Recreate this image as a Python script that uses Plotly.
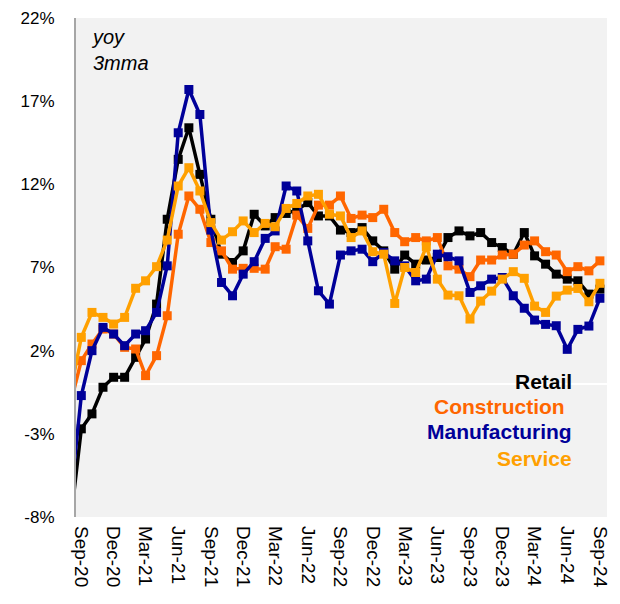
import pandas as pd
import plotly.graph_objects as go

# Months Aug-20 .. Sep-24 (Aug-20 sits just outside the visible range)
months = pd.date_range("2020-08-01", "2024-09-01", freq="MS")

retail = [-8.4, -2.7, -1.8, -0.2, 0.4, 0.4, 1.6, 2.7, 4.8, 9.9, 13.5, 15.4, 12.6,
          9.9, 7.8, 7.3, 8.0, 10.2, 9.5, 10.0, 10.25, 10.45, 10.9, 10.1, 10.1,
          9.25, 9.1, 9.4, 8.6, 8.0, 6.9, 7.75, 7.2, 7.45, 7.6, 8.8, 9.2,
          8.9, 9.1, 8.5, 8.2, 7.8, 9.1, 7.7, 7.2, 6.6, 6.3, 6.2, 5.4, 5.7]
construction = [-1.2, 1.4, 2.4, 3.3, 3.0, 2.2, 2.1, 0.5, 1.7, 4.1, 9.0, 11.3, 10.5,
                8.5, 8.0, 6.9, 6.95, 6.95, 6.9, 8.25, 8.1, 10.15, 9.35, 10.75, 10.75,
                11.3, 9.95, 10.15, 10.0, 10.5, 9.1, 8.55, 8.8, 8.6, 8.8, 7.1, 6.9,
                6.45, 7.45, 7.45, 7.75, 7.8, 8.35, 8.6, 7.95, 7.75, 6.75, 7.05, 6.8, 7.4]
manufacturing = [-7.0, -0.7, 2.0, 3.4, 3.0, 2.3, 3.0, 3.2, 4.3, 7.1, 15.1, 17.7, 16.2,
                 9.25, 6.1, 5.3, 6.6, 7.35, 8.75, 9.2, 11.9, 11.6, 8.6, 5.6, 4.8,
                 7.75, 8.0, 8.1, 7.35, 7.9, 7.4, 7.1, 6.2, 6.3, 7.8, 7.65, 7.4,
                 5.5, 5.9, 6.3, 6.4, 5.3, 4.55, 3.84, 3.58, 3.5, 2.08, 3.28, 3.48, 5.15]
service = [-0.5, 2.8, 4.3, 4.0, 3.6, 4.0, 5.75, 6.2, 7.05, 8.65, 11.9, 13.0, 11.6,
           9.7, 8.65, 9.15, 9.8, 9.1, 9.65, 9.45, 10.55, 10.85, 11.3, 11.4, 10.2,
           10.1, 8.8, 9.2, 7.95, 7.8, 4.84, 7.0, 6.7, 8.25, 6.3, 5.34, 5.3,
           3.9, 4.98, 5.58, 6.3, 6.75, 6.35, 4.68, 4.3, 5.28, 5.64, 5.74, 4.94, 6.05]

series_names = ["Retail", "Construction", "Manufacturing", "Service"]
series_colors = ["#000000", "#FF6600", "#000099", "#FFA000"]
series_values = [retail, construction, manufacturing, service]

tick_dates = pd.date_range("2020-09-01", "2024-09-01", freq="3MS")
tick_labels = ["Sep-20", "Dec-20", "Mar-21", "Jun-21", "Sep-21", "Dec-21", "Mar-22",
               "Jun-22", "Sep-22", "Dec-22", "Mar-23", "Jun-23", "Sep-23", "Dec-23",
               "Mar-24", "Jun-24", "Sep-24"]
y_ticks = [-8, -3, 2, 7, 12, 17, 22]

# page body has an 8px margin; target plot box on screen: x 76..607, y 18..517
OFF = 8
W, H = 620 - OFF, 604 - OFF
PL, PR, PT, PB = 76, 607, 18, 517

fig = go.Figure()
for name, color, vals in zip(series_names, series_colors, series_values):
    fig.add_trace(go.Scatter(
        x=months, y=vals, mode="lines+markers", name=name,
        line=dict(color=color, width=3.5),
        marker=dict(symbol="square", size=9, color=color),
        showlegend=False,
    ))

# legend as coloured text
legend_y = [381.5, 406.5, 432, 458]
legend_x = [574, 567, 574, 574]
for name, color, ly, lx in zip(series_names, series_colors, legend_y, legend_x):
    fig.add_annotation(
        x=(lx - PL) / (PR - PL), y=(PB - ly) / (PB - PT),
        xref="paper", yref="paper", xanchor="right", yanchor="middle",
        text="<b>" + name + "</b>", showarrow=False,
        font=dict(family="Liberation Sans, Arial", size=21, color=color),
    )

fig.add_annotation(
    x=(89 - PL) / (PR - PL), y=(PB - 50) / (PB - PT),
    xref="paper", yref="paper", xanchor="left", yanchor="middle", align="left",
    text="<i>yoy</i><br><i>3mma</i>", showarrow=False,
    font=dict(family="Liberation Sans, Arial", size=20, color="#000000"),
)

fig.update_layout(
    width=W, height=H,
    margin=dict(l=PL - OFF, r=620 - PR, t=PT - OFF, b=604 - PB, autoexpand=False),
    paper_bgcolor="#ffffff", plot_bgcolor="#f2f2f2",
    font=dict(family="Liberation Sans, Arial", color="#000000"),
)
fig.update_xaxes(
    range=["2020-08-17", "2024-09-21"],
    tickvals=list(tick_dates), ticktext=tick_labels,
    tickangle=90, ticks="", showgrid=False, showline=False, zeroline=False,
    tickfont=dict(size=19, family="Liberation Sans, Arial"),
    ticklabelstandoff=8, automargin=False,
)
fig.update_yaxes(
    range=[-8, 22], tickvals=y_ticks, ticktext=[f"{v}%" for v in y_ticks],
    showgrid=False, zeroline=True, zerolinecolor="#ffffff", zerolinewidth=2,
    showline=True, linecolor="#a6a6a6", linewidth=2, ticks="",
    tickfont=dict(size=17, family="Liberation Sans, Arial"),
    ticklabelstandoff=16, automargin=False,
)

fig.write_html("out.html")
